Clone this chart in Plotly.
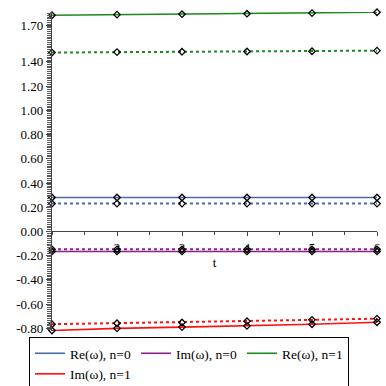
import plotly.graph_objects as go

t = [1, 2, 3, 4, 5, 6]

re_n0_solid = [0.28, 0.28, 0.28, 0.28, 0.28, 0.28]
re_n0_dot = [0.23, 0.23, 0.23, 0.23, 0.23, 0.23]
im_n0_solid = [-0.165, -0.165, -0.165, -0.165, -0.165, -0.165]
im_n0_dot = [-0.148, -0.148, -0.148, -0.148, -0.148, -0.148]
re_n1_solid = [1.785, 1.79, 1.794, 1.798, 1.803, 1.81]
re_n1_dot = [1.477, 1.481, 1.484, 1.486, 1.488, 1.493]
im_n1_solid = [-0.818, -0.80, -0.79, -0.78, -0.766, -0.75]
im_n1_dot = [-0.766, -0.758, -0.752, -0.741, -0.73, -0.72]

y_tickvals = [-0.8, -0.6, -0.4, -0.2, 0.0, 0.2, 0.4, 0.6, 0.8, 1.0, 1.2, 1.4, 1.7]
y_ticktext = ["-0.80", "-0.60", "-0.40", "-0.20", "0.00", "0.20", "0.40", "0.60",
              "0.80", "1.00", "1.20", "1.40", "1.70"]
x_tickvals = [2, 3, 4, 5, 6]
x_ticktext = ["2", "3", "4", "5", "6"]

names = ["Re(ω), n=0", "Im(ω), n=0", "Re(ω), n=1", "Im(ω), n=1"]
colors = ["#4A6BA8", "#8E1F8E", "#1E8A1E", "#FF1010"]
solids = [re_n0_solid, im_n0_solid, re_n1_solid, im_n1_solid]
dots = [re_n0_dot, im_n0_dot, re_n1_dot, im_n1_dot]

ymin, ymax = -0.822, 1.812

fig = go.Figure()
for name, c, s, d in zip(names, colors, solids, dots):
    fig.add_trace(go.Scatter(x=t, y=d, mode="lines", line=dict(color=c, width=2, dash="dot"),
                             showlegend=False, cliponaxis=False))
    fig.add_trace(go.Scatter(x=t, y=s, mode="lines", name=name, line=dict(color=c, width=1.6),
                             cliponaxis=False))
for s, d in zip(solids, dots):
    for yy in (s, d):
        fig.add_trace(go.Scatter(x=t, y=yy, mode="markers", showlegend=False, cliponaxis=False,
                                 marker=dict(symbol="diamond-open", color="black", size=5,
                                             line=dict(width=1.3, color="black"))))
# dummy trace to instantiate the tick-only overlay axes
fig.add_trace(go.Scatter(x=[None], y=[None], xaxis="x2", yaxis="y2", showlegend=False,
                         hoverinfo="skip"))

font_serif = "Liberation Serif"
zero_pos = (0 - ymin) / (ymax - ymin)

fig.update_layout(
    width=386, height=386,
    margin=dict(l=52, r=9, t=12, b=55),
    paper_bgcolor="white", plot_bgcolor="white",
    font=dict(family=font_serif, size=12, color="black"),
    showlegend=True,
    legend=dict(orientation="h", xref="container", yref="container",
                x=29 / 386, xanchor="left", y=(386 - 337) / 386, yanchor="top",
                bordercolor="black", borderwidth=1, bgcolor="white",
                font=dict(family=font_serif, size=13.5, color="black"),
                tracegroupgap=0, itemwidth=30),
    xaxis=dict(range=[1, 6], anchor="free", position=zero_pos, automargin=False,
               tickvals=x_tickvals, ticktext=x_ticktext,
               showgrid=False, zeroline=False, showline=True, linecolor="#444", linewidth=1,
               ticks="outside", ticklen=4, tickcolor="#444",
               tickfont=dict(family=font_serif, size=13),
               title=dict(text="t", font=dict(family=font_serif, size=13), standoff=3)),
    yaxis=dict(range=[ymin, ymax], tickvals=y_tickvals, ticktext=y_ticktext, automargin=False,
               showgrid=False, zeroline=False, showline=True, linecolor="#444", linewidth=1.2,
               ticks="outside", ticklen=5, tickcolor="#444", tickwidth=1,
               tickfont=dict(family=font_serif, size=13)),
    xaxis2=dict(range=[1, 6], overlaying="x", anchor="free", position=zero_pos,
                tickmode="linear", tick0=1, dtick=0.5, showticklabels=False,
                ticks="outside", ticklen=3, tickcolor="#444", showgrid=False,
                zeroline=False, showline=False, automargin=False),
    yaxis2=dict(range=[ymin, ymax], overlaying="y", side="left", anchor="x",
                tickmode="linear", tick0=0, dtick=0.015, showticklabels=False,
                ticks="outside", ticklen=4, tickcolor="#5a5a5a", tickwidth=1,
                showgrid=False, zeroline=False, showline=False, automargin=False),
)

fig.write_html("out.html", config={"displayModeBar": False},
               post_script="document.body.style.margin='0';")
